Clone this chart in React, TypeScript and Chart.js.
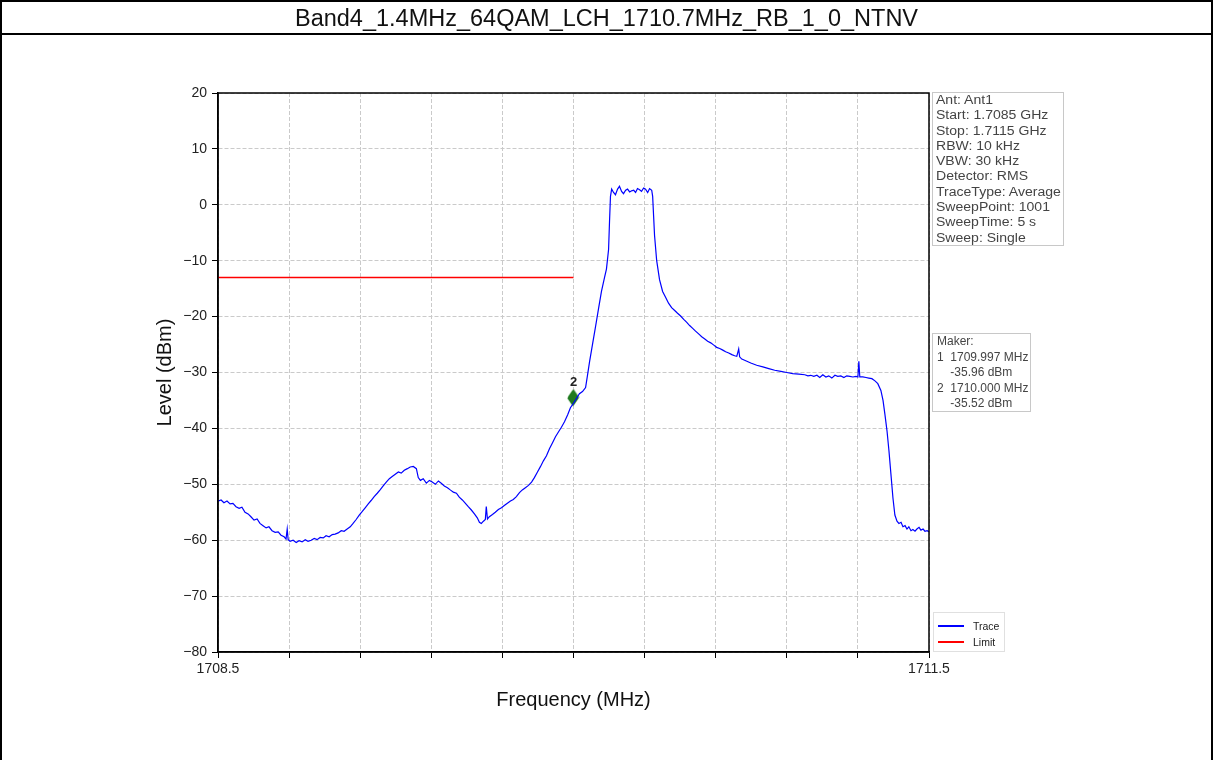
import React, { useEffect, useRef } from "react";
import { Chart, registerables } from "chart.js";

Chart.register(...registerables);

const FONT = "Arial, 'Liberation Sans', Helvetica, sans-serif";

const chartTitle = "Band4_1.4MHz_64QAM_LCH_1710.7MHz_RB_1_0_NTNV";
const xAxisTitle = "Frequency (MHz)";
const yAxisTitle = "Level (dBm)";

const xTicks = [1708.5, 1708.8, 1709.1, 1709.4, 1709.7, 1710.0, 1710.3, 1710.6, 1710.9, 1711.2, 1711.5];
const xTickLabels = ["1708.5", "", "", "", "", "", "", "", "", "", "1711.5"];
const yTicks = [-80, -70, -60, -50, -40, -30, -20, -10, 0, 10, 20];

const traceFreqs = [
  1708.500, 1708.513, 1708.525, 1708.538, 1708.551, 1708.563, 1708.576, 1708.589, 1708.601, 1708.614,
  1708.627, 1708.639, 1708.652, 1708.665, 1708.677, 1708.690, 1708.703, 1708.715, 1708.728, 1708.741,
  1708.754, 1708.766, 1708.779, 1708.787, 1708.792, 1708.796, 1708.804, 1708.817, 1708.830, 1708.842,
  1708.855, 1708.868, 1708.880, 1708.893, 1708.906, 1708.918, 1708.931, 1708.944, 1708.956, 1708.969,
  1708.982, 1708.994, 1709.007, 1709.020, 1709.032, 1709.045, 1709.058, 1709.070, 1709.083, 1709.096,
  1709.108, 1709.121, 1709.134, 1709.146, 1709.159, 1709.172, 1709.184, 1709.197, 1709.210, 1709.223,
  1709.235, 1709.248, 1709.261, 1709.273, 1709.286, 1709.299, 1709.311, 1709.324, 1709.337, 1709.345,
  1709.354, 1709.366, 1709.379, 1709.392, 1709.404, 1709.417, 1709.430, 1709.442, 1709.455, 1709.468,
  1709.480, 1709.493, 1709.506, 1709.518, 1709.531, 1709.544, 1709.556, 1709.569, 1709.582, 1709.594,
  1709.603, 1709.611, 1709.620, 1709.628, 1709.632, 1709.637, 1709.645, 1709.658, 1709.670, 1709.683,
  1709.696, 1709.708, 1709.721, 1709.734, 1709.746, 1709.759, 1709.772, 1709.784, 1709.797, 1709.810,
  1709.823, 1709.835, 1709.848, 1709.861, 1709.873, 1709.886, 1709.899, 1709.911, 1709.924, 1709.937,
  1709.949, 1709.962, 1709.975, 1709.987, 1710.000, 1710.013, 1710.025, 1710.038, 1710.051, 1710.059,
  1710.068, 1710.080, 1710.093, 1710.106, 1710.118, 1710.131, 1710.139, 1710.148, 1710.152, 1710.156,
  1710.161, 1710.169, 1710.177, 1710.186, 1710.194, 1710.203, 1710.211, 1710.220, 1710.228, 1710.237,
  1710.245, 1710.254, 1710.262, 1710.270, 1710.279, 1710.287, 1710.296, 1710.304, 1710.313, 1710.321,
  1710.330, 1710.334, 1710.338, 1710.342, 1710.351, 1710.363, 1710.376, 1710.389, 1710.401, 1710.414,
  1710.427, 1710.439, 1710.452, 1710.465, 1710.477, 1710.490, 1710.503, 1710.515, 1710.528, 1710.541,
  1710.554, 1710.566, 1710.579, 1710.592, 1710.604, 1710.617, 1710.630, 1710.642, 1710.655, 1710.668,
  1710.680, 1710.689, 1710.697, 1710.701, 1710.710, 1710.722, 1710.748, 1710.773, 1710.799, 1710.824,
  1710.849, 1710.875, 1710.900, 1710.925, 1710.951, 1710.976, 1710.989, 1711.001, 1711.014, 1711.027,
  1711.039, 1711.052, 1711.065, 1711.077, 1711.090, 1711.103, 1711.115, 1711.128, 1711.141, 1711.153,
  1711.166, 1711.179, 1711.192, 1711.200, 1711.204, 1711.208, 1711.221, 1711.234, 1711.246, 1711.259,
  1711.272, 1711.284, 1711.297, 1711.306, 1711.314, 1711.323, 1711.331, 1711.339, 1711.348, 1711.356,
  1711.365, 1711.373, 1711.382, 1711.390, 1711.399, 1711.407, 1711.415, 1711.424, 1711.432, 1711.441,
  1711.449, 1711.458, 1711.466, 1711.475, 1711.483, 1711.492, 1711.500,
];

const traceLevels = [
  -53.0, -52.8, -53.3, -53.0, -53.5, -53.4, -54.0, -54.3, -54.1, -55.0,
  -55.3, -55.8, -56.4, -56.2, -57.0, -57.4, -57.8, -57.6, -58.3, -58.6,
  -58.5, -59.1, -59.4, -59.8, -58.0, -59.9, -60.2, -60.0, -60.4, -60.1,
  -60.3, -59.9, -60.2, -60.0, -59.7, -59.9, -59.5, -59.6, -59.2, -59.4,
  -59.0, -58.9, -58.7, -58.3, -58.4, -58.0, -57.6, -57.0, -56.3, -55.5,
  -54.9, -54.2, -53.5, -52.9, -52.2, -51.6, -51.0, -50.3, -49.6, -49.0,
  -48.6, -48.2, -47.8, -48.0, -47.5, -47.2, -46.9, -46.8, -47.2, -48.8,
  -49.3, -49.0, -49.8, -49.3, -49.6, -50.0, -49.4, -49.8, -50.3, -50.6,
  -51.0, -51.4, -51.6, -52.3, -52.8, -53.4, -54.0, -54.6, -55.3, -56.0,
  -56.8, -57.0, -56.6, -56.3, -54.0, -56.2, -55.8, -55.4, -55.0, -54.5,
  -54.2, -53.8, -53.4, -53.0, -52.7, -52.2, -51.5, -51.0, -50.6, -50.2,
  -49.6, -48.8, -47.8, -46.8, -45.8, -44.9, -43.6, -42.6, -41.5, -40.6,
  -39.8, -38.8, -37.6, -36.3, -35.5, -34.6, -33.8, -33.4, -32.7, -30.5,
  -28.0, -25.0, -21.8, -18.5, -15.5, -13.0, -11.5, -8.0, -3.0, 1.5,
  2.8, 2.2, 1.8, 2.8, 3.3, 2.4, 2.0, 2.6, 2.8, 2.3,
  2.5, 2.6, 2.2, 2.9, 2.7, 2.4, 3.0, 2.8, 2.2, 2.9,
  2.6, 1.5, -2.0, -5.5, -10.0, -13.4, -15.5, -16.6, -17.6, -18.4,
  -18.9, -19.4, -19.9, -20.5, -21.0, -21.6, -22.1, -22.6, -23.1, -23.6,
  -24.0, -24.4, -24.7, -25.1, -25.5, -25.7, -26.0, -26.3, -26.5, -26.8,
  -27.0, -27.1, -25.8, -27.2, -27.6, -27.8, -28.3, -28.7, -29.0, -29.3,
  -29.6, -29.8, -30.0, -30.2, -30.3, -30.4, -30.6, -30.5, -30.7, -30.5,
  -30.9, -30.4, -30.8, -30.6, -31.0, -30.5, -30.7, -30.6, -30.9, -30.6,
  -30.7, -30.8, -30.7, -30.8, -28.0, -30.8, -30.8, -30.9, -31.0, -31.1,
  -31.5, -32.0, -33.2, -35.0, -37.5, -40.5, -44.0, -48.0, -52.5, -55.5,
  -56.6, -57.0, -56.8, -57.6, -57.4, -58.0, -57.6, -58.3, -58.1, -58.4,
  -58.0, -57.7, -58.2, -58.0, -58.4, -58.3, -58.5,
];

const limitFreqs = [1708.5, 1710.0];
const limitLevels = [-13, -13];

const markerFreqs = [1709.997, 1710.0];
const markerLevels = [-34.6, -34.4];
const markerLabels = ["1", "2"];

const infoLines = [
  "Ant: Ant1",
  "Start: 1.7085 GHz",
  "Stop: 1.7115 GHz",
  "RBW: 10 kHz",
  "VBW: 30 kHz",
  "Detector: RMS",
  "TraceType: Average",
  "SweepPoint: 1001",
  "SweepTime: 5 s",
  "Sweep: Single",
];

const makerLines = [
  "Maker:",
  "1  1709.997 MHz",
  "    -35.96 dBm",
  "2  1710.000 MHz",
  "    -35.52 dBm",
];

const legendNames = ["Trace", "Limit"];
const legendColors = ["#0000ff", "#ff0000"];

function makeDiamond(): HTMLCanvasElement {
  const c = document.createElement("canvas");
  c.width = 12;
  c.height = 17;
  const g = c.getContext("2d")!;
  g.fillStyle = "#1f7a1f";
  g.beginPath();
  g.moveTo(6, 0.5);
  g.lineTo(11.5, 8.5);
  g.lineTo(6, 16.5);
  g.lineTo(0.5, 8.5);
  g.closePath();
  g.fill();
  return c;
}

const framePlugin = {
  id: "frameBox",
  afterDatasetsDraw(chart: any) {
    const { ctx, chartArea: a } = chart;
    ctx.save();
    ctx.strokeStyle = "#000";
    ctx.lineWidth = 1.5;
    ctx.strokeRect(a.left, a.top, a.right - a.left, a.bottom - a.top);
    ctx.restore();
  },
};

const markerLabelPlugin = {
  id: "markerLabels",
  afterDatasetsDraw(chart: any) {
    const meta = chart.getDatasetMeta(2);
    const { ctx } = chart;
    const pts = meta.data as any[];
    ctx.save();
    ctx.fillStyle = "#222";
    ctx.font = `bold 13px ${FONT}`;
    ctx.textAlign = "center";
    ctx.textBaseline = "bottom";
    pts.forEach((el: any, i: number) => {
      // a later marker drawn on (almost) the same spot hides this label
      const hidden = pts.some(
        (o: any, j: number) => j > i && Math.abs(o.x - el.x) < 6 && Math.abs(o.y - el.y) < 6
      );
      if (!hidden) ctx.fillText(markerLabels[i], el.x, el.y - 8);
    });
    ctx.restore();
  },
};

const fmtTick = (v: number) => (v < 0 ? "\u2212" + Math.abs(v) : String(v));

export default function App() {
  const canvasRef = useRef<HTMLCanvasElement | null>(null);

  useEffect(() => {
    if (!canvasRef.current) return;
    const diamond = makeDiamond();
    const chart = new Chart(canvasRef.current, {
      type: "line",
      data: {
        datasets: [
          {
            label: "Trace",
            data: traceFreqs.map((f, i) => ({ x: f, y: traceLevels[i] })),
            borderColor: "#0000ff",
            borderWidth: 1.2,
            pointRadius: 0,
            tension: 0,
          },
          {
            label: "Limit",
            data: limitFreqs.map((f, i) => ({ x: f, y: limitLevels[i] })),
            borderColor: "#ff0000",
            borderWidth: 1.5,
            pointRadius: 0,
          },
          {
            label: "Markers",
            data: markerFreqs.map((f, i) => ({ x: f, y: markerLevels[i] })),
            showLine: false,
            pointStyle: diamond as any,
            pointRadius: 6,
            borderWidth: 0,
            backgroundColor: "#1f7a1f",
          },
        ],
      },
      options: {
        responsive: false,
        animation: false,
        devicePixelRatio: 1,
        layout: { padding: { left: 149, top: 93, right: 284, bottom: 44 } },
        plugins: {
          legend: { display: false },
          title: { display: false },
          tooltip: { enabled: false },
        },
        scales: {
          x: {
            type: "linear",
            min: 1708.5,
            max: 1711.5,
            afterBuildTicks: (scale: any) => {
              scale.ticks = xTicks.map((v) => ({ value: v }));
            },
            afterFit: (scale: any) => {
              scale.height = 64;
            },
            ticks: {
              autoSkip: false,
              maxRotation: 0,
              padding: 3,
              color: "#222",
              font: { family: FONT, size: 14 },
              callback: (_v: any, i: number) => xTickLabels[i],
            },
            grid: {
              color: "#cacaca",
              lineWidth: 1,
              drawTicks: true,
              tickLength: 6,
              tickColor: "#000",
              tickWidth: 1,
            },
            border: { display: true, color: "#000", width: 1.5, dash: [4, 2] },
            title: {
              display: true,
              text: xAxisTitle,
              color: "#111",
              font: { family: FONT, size: 20 },
              padding: { top: 4, bottom: 4 },
            },
          },
          y: {
            type: "linear",
            min: -80,
            max: 20,
            afterBuildTicks: (scale: any) => {
              scale.ticks = yTicks.map((v) => ({ value: v }));
            },
            afterFit: (scale: any) => {
              scale.width = 69;
            },
            ticks: {
              padding: 5,
              color: "#222",
              font: { family: FONT, size: 14 },
              callback: (v: any) => fmtTick(Number(v)),
            },
            grid: {
              color: "#cacaca",
              lineWidth: 1,
              drawTicks: true,
              tickLength: 6,
              tickColor: "#000",
              tickWidth: 1,
            },
            border: { display: true, color: "#000", width: 1.5, dash: [4, 2] },
            title: {
              display: true,
              text: yAxisTitle,
              color: "#111",
              font: { family: FONT, size: 20 },
              padding: { top: 4, bottom: 4 },
            },
          },
        },
      } as any,
      plugins: [framePlugin, markerLabelPlugin],
    });
    return () => chart.destroy();
  }, []);

  const boxStyle: React.CSSProperties = {
    position: "absolute",
    background: "#fff",
    border: "1px solid #c8c8c8",
    boxSizing: "border-box",
    fontFamily: FONT,
    color: "#444",
    whiteSpace: "pre",
    overflow: "hidden",
  };

  const lineStyle: React.CSSProperties = {
    display: "block",
    transform: "scaleX(1.17)",
    transformOrigin: "0 50%",
  };

  return (
    <div
      style={{
        position: "absolute",
        left: 0,
        top: 0,
        width: 1213,
        height: 760,
        background: "#fff",
        overflow: "hidden",
      }}
    >
      <canvas
        ref={canvasRef}
        width={1213}
        height={760}
        style={{ position: "absolute", left: 0, top: 0, width: 1213, height: 760 }}
      />
      <div
        style={{
          position: "absolute",
          left: 0,
          top: 0,
          width: 1213,
          height: 760,
          boxSizing: "border-box",
          borderLeft: "2px solid #000",
          borderRight: "2px solid #000",
          borderTop: "2px solid #000",
          pointerEvents: "none",
        }}
      >
        <div
          style={{
            height: 31,
            lineHeight: "32px",
            borderBottom: "2px solid #000",
            textAlign: "center",
            fontFamily: FONT,
            fontSize: 23.5,
            color: "#111",
            whiteSpace: "nowrap",
          }}
        >
          {chartTitle}
        </div>
      </div>

      <div style={{ ...boxStyle, left: 932, top: 92, width: 132, height: 154, fontSize: 12, lineHeight: "15.3px", paddingLeft: 3 }}>
        {infoLines.map((t, i) => (
          <div key={i} style={lineStyle}>{t}</div>
        ))}
      </div>

      <div style={{ ...boxStyle, left: 932, top: 333, width: 99, height: 79, fontSize: 12, lineHeight: "15.6px", paddingLeft: 4 }}>
        {makerLines.map((t, i) => (
          <div key={i}>{t}</div>
        ))}
      </div>

      <div style={{ ...boxStyle, left: 933, top: 612, width: 72, height: 40, fontSize: 10.5, color: "#222", border: "1px solid #e0e0e0" }}>
        {legendNames.map((n, i) => (
          <div key={i} style={{ position: "absolute", left: 4, top: 6 + i * 16, height: 14, display: "flex", alignItems: "center" }}>
            <span style={{ display: "inline-block", width: 26, height: 2, background: legendColors[i], marginRight: 9 }} />
            <span>{n}</span>
          </div>
        ))}
      </div>
    </div>
  );
}
